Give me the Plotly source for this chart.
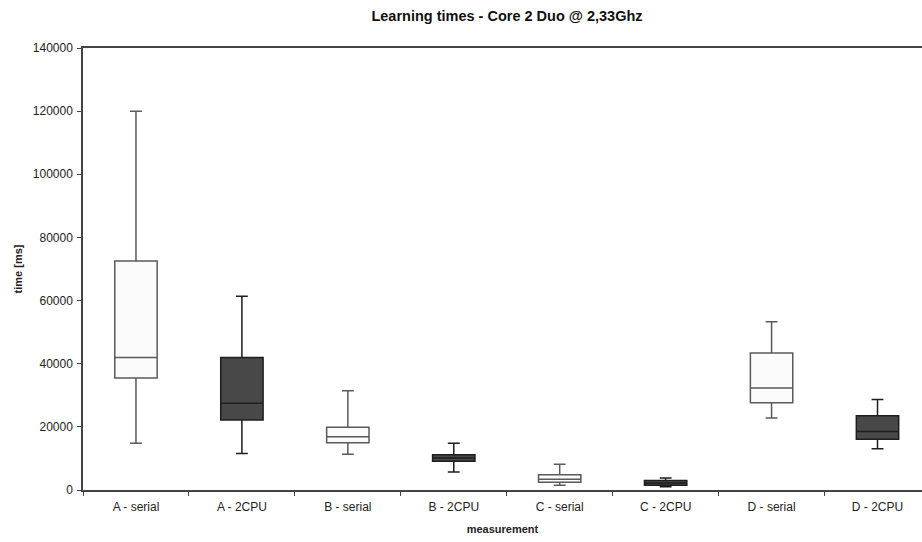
import plotly.graph_objects as go

categories = ["A - serial", "A - 2CPU", "B - serial", "B - 2CPU",
              "C - serial", "C - 2CPU", "D - serial", "D - 2CPU"]

serial_x = ["A - serial", "B - serial", "C - serial", "D - serial"]
serial_low = [14800, 11300, 1500, 22800]
serial_q1 = [35500, 15000, 2450, 27600]
serial_median = [42000, 16900, 3400, 32300]
serial_q3 = [72500, 19900, 4850, 43400]
serial_high = [120000, 31400, 8150, 53300]

cpu2_x = ["A - 2CPU", "B - 2CPU", "C - 2CPU", "D - 2CPU"]
cpu2_low = [11600, 5700, 1000, 13100]
cpu2_q1 = [22200, 9100, 1500, 16100]
cpu2_median = [27500, 10150, 2200, 18500]
cpu2_q3 = [42000, 11200, 3000, 23500]
cpu2_high = [61400, 14800, 3800, 28700]

y_ticks = [0, 20000, 40000, 60000, 80000, 100000, 120000, 140000]
y_tick_labels = [str(v) for v in y_ticks]

fig = go.Figure()
fig.add_trace(go.Box(
    x=serial_x, q1=serial_q1, median=serial_median, q3=serial_q3,
    lowerfence=serial_low, upperfence=serial_high,
    fillcolor="#fbfbfb", line=dict(color="#5a5a5a", width=1.5),
    width=0.4, whiskerwidth=0.28, boxpoints=False, name="serial",
))
fig.add_trace(go.Box(
    x=cpu2_x, q1=cpu2_q1, median=cpu2_median, q3=cpu2_q3,
    lowerfence=cpu2_low, upperfence=cpu2_high,
    fillcolor="#484848", line=dict(color="#1e1e1e", width=1.5),
    width=0.4, whiskerwidth=0.28, boxpoints=False, name="2CPU",
))

font = "Liberation Sans, Arial, sans-serif"
fig.update_layout(
    width=922, height=542,
    margin=dict(l=83, r=0, t=48, b=52),
    paper_bgcolor="white", plot_bgcolor="white",
    showlegend=False,
    font=dict(family=font, size=12, color="#222222"),
    title=dict(text="<b>Learning times - Core 2 Duo @ 2,33Ghz</b>",
               x=(83 + 931) / 2 / 922, xanchor="center", y=1 - 16 / 542, yanchor="middle",
               font=dict(size=14.5, color="#111111")),
    xaxis=dict(
        type="category", categoryorder="array", categoryarray=categories,
        range=[-0.5, 7.42], showline=True, linecolor="#444444", linewidth=1.5,
        mirror=True, ticks="outside", tickson="boundaries", ticklen=4,
        tickcolor="#444444", showgrid=False, zeroline=False, automargin=False,
        ticklabelstandoff=5,
        title=dict(text="<b>measurement</b>", font=dict(size=11), standoff=12),
        tickfont=dict(size=12),
    ),
    yaxis=dict(
        range=[0, 140000], tickvals=y_ticks, ticktext=y_tick_labels,
        showline=True, linecolor="#444444", automargin=False,
        linewidth=1.5, ticks="outside", ticklen=4, tickcolor="#444444",
        showgrid=False, zeroline=False, ticklabelstandoff=2,
        title=dict(text="<b>time [ms]</b>", font=dict(size=11), standoff=8),
        tickfont=dict(size=12),
    ),
)
fig.write_html("out.html", config={"displayModeBar": False},
               post_script="document.body.style.margin='0';")
